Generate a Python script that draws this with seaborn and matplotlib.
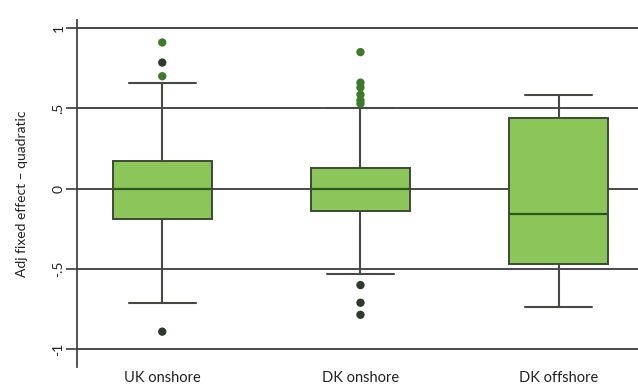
import numpy as np
import pandas as pd
import matplotlib
matplotlib.use("Agg")
import matplotlib.pyplot as plt
import seaborn as sns

# Five-number summaries per group: lower whisker, Q1, median, Q3, upper whisker
categories = ["UK onshore", "DK onshore", "DK offshore"]
uk_onshore = [-0.71, -0.19, 0.0, 0.17, 0.66]
dk_onshore = [-0.53, -0.14, 0.0, 0.13, 0.50]
dk_offshore = [-0.735, -0.47, -0.155, 0.44, 0.585]

# Outlying observations beyond the whiskers
uk_outliers = [0.91, 0.785, 0.70, -0.89]
uk_outlier_tone = ["high", "low", "high", "low"]
dk_on_outliers = [0.85, 0.66, 0.63, 0.585, 0.55, 0.53, -0.60, -0.71, -0.785]
dk_on_outlier_tone = ["high", "high", "high", "high", "high", "high", "low", "low", "low"]

yticks = [-1, -0.5, 0, 0.5, 1]
ytick_labels = ["-1", "-.5", "0", ".5", "1"]
ylabel = "Adj fixed effect \u2013 quadratic"

sns.set_theme(style="white")
plt.rcParams["font.family"] = ["Lato", "DejaVu Sans"]

box_df = pd.DataFrame({
    "group": np.repeat(categories, 5),
    "value": uk_onshore + dk_onshore + dk_offshore,
})
out_df = pd.DataFrame({
    "group": ["UK onshore"] * len(uk_outliers) + ["DK onshore"] * len(dk_on_outliers),
    "value": uk_outliers + dk_on_outliers,
    "tone": uk_outlier_tone + dk_on_outlier_tone,
})

fig = plt.figure(figsize=(6.38, 3.85), dpi=100)
ax = fig.add_axes([77 / 638, 18 / 385, 561 / 638, 347 / 385])

grid_col = "#3a3a3a"
for y in yticks:
    ax.axhline(y, color=grid_col, lw=1.3, zorder=0)

sns.boxplot(
    data=box_df, x="group", y="value", order=categories,
    whis=(0, 100), width=0.5, color="#8cc65a", saturation=1,
    linewidth=1.4, linecolor="#3c4a34", showfliers=False,
    boxprops=dict(edgecolor="#3c4a34"),
    medianprops=dict(color="#2e5522", lw=1.6),
    whiskerprops=dict(color="#454a42", lw=1.5),
    capprops=dict(color="#454a42", lw=1.5),
    capwidths=0.34,
    ax=ax, zorder=2,
)

sns.stripplot(
    data=out_df, x="group", y="value", order=categories,
    hue="tone", palette={"high": "#3f7a2a", "low": "#2f3a2c"},
    jitter=False, size=6, linewidth=0, legend=False, ax=ax, zorder=3,
)

ax.set_xlim(-0.43, 2.40)
ax.set_ylim(-1.11, 1.05)
ax.set_yticks(yticks)
ax.set_yticklabels(ytick_labels, rotation=90, va="center", fontsize=10, color="#222222")
ax.tick_params(axis="y", direction="out", length=8, width=1.2, color="#3a3a3a", pad=1, left=True)
ax.tick_params(axis="x", length=0, pad=3, labelsize=10.5, labelcolor="#222222")

for side in ["top", "right", "bottom"]:
    ax.spines[side].set_visible(False)
ax.spines["left"].set_color("#444444")
ax.spines["left"].set_linewidth(1.3)

ax.set_xlabel("")
ax.set_ylabel(ylabel, fontsize=10, color="#222222")
ax.yaxis.set_label_coords(-0.087, 0.5)

fig.savefig("out.png", dpi=100, facecolor="white")
